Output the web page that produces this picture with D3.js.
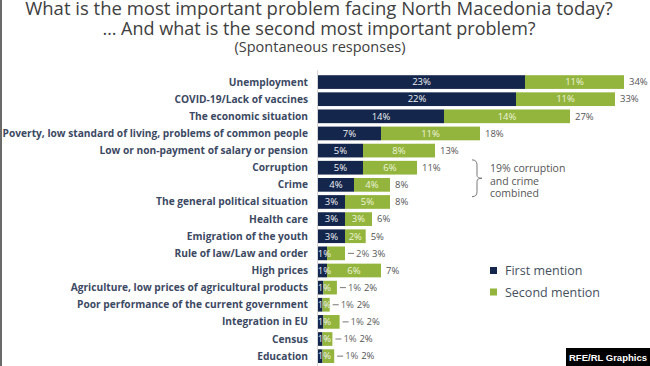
<!DOCTYPE html>
<html>
<head>
<meta charset="utf-8">
<script src="https://cdn.jsdelivr.net/npm/d3@7"></script>
<style>
  html, body { margin: 0; padding: 0; background: #fff; }
  svg text { font-family: "Open Sans", "Noto Sans", sans-serif; }
</style>
</head>
<body>
<div id="chart"></div>
<script>
// categories, top to bottom
var categories = [
  "Unemployment",
  "COVID-19/Lack of vaccines",
  "The economic situation",
  "Poverty, low standard of living, problems of common people",
  "Low or non-payment of salary or pension",
  "Corruption",
  "Crime",
  "The general political situation",
  "Health care",
  "Emigration of the youth",
  "Rule of law/Law and order",
  "High prices",
  "Agriculture, low prices of agricultural products",
  "Poor performance of the current government",
  "Integration in EU",
  "Census",
  "Education"
];

// shares in % (small ones)
var firstMention  = [23, 22, 14, 7, 5, 5, 4, 3, 3, 3, 1, 1, 0.6, 0.5, 0.6, 0.5, 0.5];
var secondMention = [11, 11, 14, 11, 8, 6, 4, 5, 3, 2.3, 2, 6, 1.5, 0.8, 1.8, 1.1, 1.3];

// printed (rounded) labels
var firstLabels  = [23, 22, 14, 7, 5, 5, 4, 3, 3, 3, 1, 1, 1, 1, 1, 1, 1];
var secondLabels = [11, 11, 14, 11, 8, 6, 4, 5, 3, 2, 2, 6, 1, 1, 1, 1, 1];
var totalLabels  = [34, 33, 27, 18, 13, 11, 8, 8, 6, 5, 3, 7, 2, 2, 2, 2, 2];

var seriesNames = ["First mention", "Second mention"];
var titleLines = [
  "What is the most important problem facing North Macedonia today?",
  "\u2026 And what is the second most important problem?"
];
var subtitle = "(Spontaneous responses)";
var noteLines = ["19% corruption", "and crime", "combined"];

var width = 650, height = 366;
var navy = "#14264b", green = "#93b53d";

var svg = d3.select("#chart").append("svg")
  .attr("width", width)
  .attr("height", height);

// frame edge on the left
svg.append("rect").attr("x", 0).attr("y", 0).attr("width", 2).attr("height", height).attr("fill", "#6a6a6a");

// titles
svg.selectAll(".title").data(titleLines).enter().append("text")
  .attr("class", "title")
  .attr("x", 319)
  .attr("y", function(d, i) { return 15 + i * 19.5; })
  .attr("text-anchor", "middle")
  .attr("font-size", function(d, i) { return i === 0 ? 18.5 : 18; })
  .attr("fill", "#404040")
  .text(function(d) { return d; });

svg.append("text")
  .attr("x", 320).attr("y", 52)
  .attr("text-anchor", "middle")
  .attr("font-size", 14.5)
  .attr("fill", "#404040")
  .text(subtitle);

var data = categories.map(function(c, i) {
  return {
    name: c, first: firstMention[i], second: secondMention[i],
    l1: firstLabels[i], l2: secondLabels[i], total: totalLabels[i]
  };
});

var x0 = 318;
var xScale = d3.scaleLinear().domain([0, 34]).range([0, 306]);
var yScale = d3.scaleBand()
  .domain(categories)
  .range([73.5, 73.5 + 17 * 17.13])
  .paddingInner(0.2)
  .paddingOuter(0.1);

var chart = svg.append("g").attr("transform", "translate(" + x0 + ",0)");

// light axis line
chart.append("line")
  .attr("x1", -0.5).attr("x2", -0.5)
  .attr("y1", 70).attr("y2", height)
  .attr("stroke", "#d6d6d6");

// category labels
chart.selectAll(".cat").data(data).enter().append("text")
  .attr("class", "cat")
  .attr("x", -10)
  .attr("y", function(d) { return yScale(d.name) + yScale.bandwidth() / 2 + 3.5; })
  .attr("text-anchor", "end")
  .attr("font-size", 10.2)
  .attr("font-weight", "bold")
  .attr("fill", "#3c4963")
  .text(function(d) { return d.name; });

// first mention bars
chart.selectAll(".bar1").data(data).enter().append("rect")
  .attr("class", "bar1")
  .attr("x", 0)
  .attr("y", function(d) { return yScale(d.name); })
  .attr("width", function(d) { return xScale(d.first); })
  .attr("height", yScale.bandwidth())
  .attr("fill", navy);

// second mention bars
chart.selectAll(".bar2").data(data).enter().append("rect")
  .attr("class", "bar2")
  .attr("x", function(d) { return xScale(d.first); })
  .attr("y", function(d) { return yScale(d.name); })
  .attr("width", function(d) { return xScale(d.second); })
  .attr("height", yScale.bandwidth())
  .attr("fill", green);

function midY(d) { return yScale(d.name) + yScale.bandwidth() / 2 + 3.3; }

// first mention values
chart.selectAll(".val1").data(data).enter().append("text")
  .attr("class", "val1")
  .attr("x", function(d) { return Math.max(xScale(d.first) / 2, 6.5); })
  .attr("y", midY)
  .attr("text-anchor", "middle")
  .attr("font-size", 9.5)
  .attr("fill", "#eef0f4")
  .text(function(d) { return d.l1 + "%"; });

// second mention values (outside with a dash when the segment is narrow)
var outside = function(d) { return xScale(d.second) < 19; };

chart.selectAll(".val2").data(data).enter().append("text")
  .attr("class", "val2")
  .attr("x", function(d) {
    var end = xScale(d.first + d.second);
    return outside(d) ? end + 11 : xScale(d.first) + xScale(d.second) / 2;
  })
  .attr("y", midY)
  .attr("text-anchor", function(d) { return outside(d) ? "start" : "middle"; })
  .attr("font-size", 9.5)
  .attr("fill", function(d) { return outside(d) ? "#666" : "#eef4dc"; })
  .text(function(d) { return d.l2 + "%"; });

chart.selectAll(".dash").data(data.filter(outside)).enter().append("line")
  .attr("class", "dash")
  .attr("x1", function(d) { return xScale(d.first + d.second) + 3; })
  .attr("x2", function(d) { return xScale(d.first + d.second) + 9; })
  .attr("y1", function(d) { return yScale(d.name) + yScale.bandwidth() / 2; })
  .attr("y2", function(d) { return yScale(d.name) + yScale.bandwidth() / 2; })
  .attr("stroke", "#777");

// totals
chart.selectAll(".tot").data(data).enter().append("text")
  .attr("class", "tot")
  .attr("x", function(d) {
    var end = xScale(d.first + d.second);
    return outside(d) ? end + 27 : end + 5;
  })
  .attr("y", midY)
  .attr("font-size", 9.5)
  .attr("fill", "#555")
  .text(function(d) { return d.total + "%"; });

// bracket for corruption + crime
var yTop = yScale("Corruption") - 1, yBot = yScale("Crime") + yScale.bandwidth() + 5;
var yMid = (yTop + yBot) / 2, bx = 472;
svg.append("path")
  .attr("d", "M" + bx + "," + yTop + " Q" + (bx + 5) + "," + yTop + " " + (bx + 5) + "," + (yTop + 5) +
             " L" + (bx + 5) + "," + (yMid - 3) + " Q" + (bx + 5) + "," + yMid + " " + (bx + 10) + "," + yMid +
             " Q" + (bx + 5) + "," + yMid + " " + (bx + 5) + "," + (yMid + 3) +
             " L" + (bx + 5) + "," + (yBot - 5) + " Q" + (bx + 5) + "," + yBot + " " + bx + "," + yBot)
  .attr("fill", "none")
  .attr("stroke", "#777")
  .attr("stroke-width", 1);

svg.selectAll(".note").data(noteLines).enter().append("text")
  .attr("class", "note")
  .attr("x", 490)
  .attr("y", function(d, i) { return 172 + i * 12.5; })
  .attr("font-size", 10.5)
  .attr("fill", "#555")
  .text(function(d) { return d; });

// legend
var legend = svg.selectAll(".legend").data(seriesNames).enter().append("g")
  .attr("class", "legend")
  .attr("transform", function(d, i) { return "translate(490," + (267 + i * 21.5) + ")"; });

legend.append("rect")
  .attr("width", 7).attr("height", 7)
  .attr("fill", function(d, i) { return i === 0 ? navy : green; });

legend.append("text")
  .attr("x", 15).attr("y", 8)
  .attr("font-size", 12.5)
  .attr("fill", "#46505e")
  .text(function(d) { return d; });

// credit box
svg.append("rect")
  .attr("x", 566).attr("y", 348).attr("width", 84).attr("height", 18)
  .attr("fill", "#000");
svg.append("text")
  .attr("x", 569).attr("y", 361)
  .attr("font-size", 9.5)
  .attr("font-weight", "bold")
  .style("font-family", "'Liberation Sans', Arial, sans-serif")
  .attr("fill", "#fff")
  .text("RFE/RL Graphics");
</script>
</body>
</html>
